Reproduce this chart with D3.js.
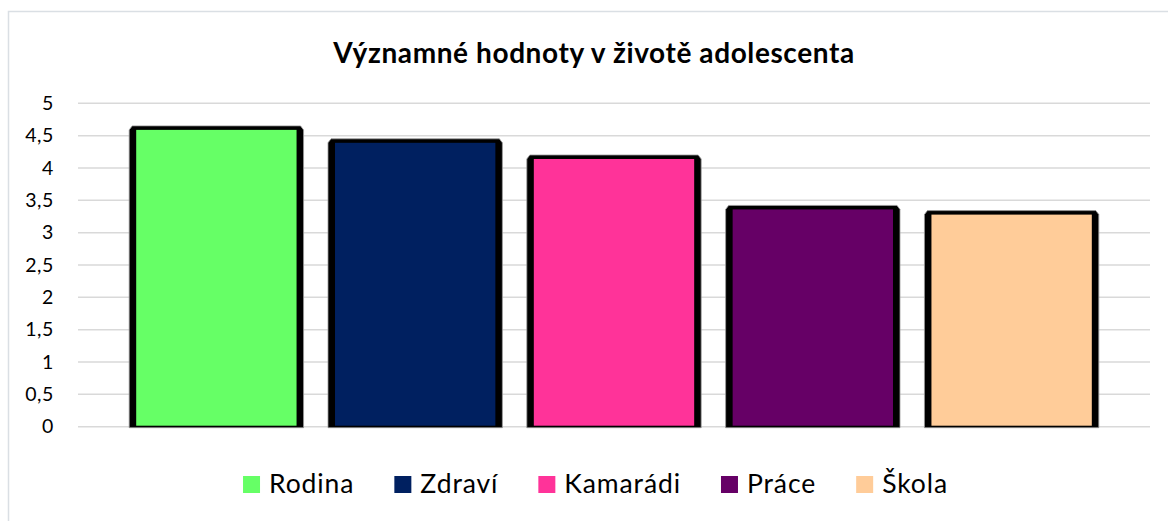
<!DOCTYPE html>
<html>
<head>
<meta charset="utf-8">
<script src="https://cdn.jsdelivr.net/npm/d3@7"></script>
<style>
  html, body { margin: 0; padding: 0; background: #fff; }
  svg { display: block; }
  text { font-family: Lato, "Open Sans", sans-serif; fill: #000; }
</style>
</head>
<body>
<svg id="chart" width="1168" height="521"></svg>
<script>
// Chart data
const title = "Významné hodnoty v životě adolescenta";
const categories = ["Rodina", "Zdraví", "Kamarádi", "Práce", "Škola"];
const values = [4.62, 4.42, 4.17, 3.39, 3.31];
const colors = ["#66ff66", "#002060", "#ff3399", "#660066", "#ffcc99"];
const yTicks = [0, 0.5, 1, 1.5, 2, 2.5, 3, 3.5, 4, 4.5, 5];

const svg = d3.select("#chart");
const W = 1168, H = 521;

// Outer chart frame (left and top edges visible)
svg.append("path")
  .attr("d", `M8.5,${H} L8.5,11.5 L${W},11.5`)
  .attr("fill", "none")
  .attr("stroke", "#dadfe4")
  .attr("stroke-width", 1.5);

const plotLeft = 78, plotRight = 1150;
const y = d3.scaleLinear().domain([0, 5]).range([426.7, 103.3]);
const x = d3.scaleBand()
  .domain(categories)
  .range([plotLeft, plotRight])
  .paddingInner(0.123)
  .paddingOuter(0.2575);

const czLocale = d3.formatLocale({ decimal: ",", thousands: " ", grouping: [3], currency: ["", " Kč"] });
const fmt = v => czLocale.format("~g")(v);

// Gridlines
svg.append("g").selectAll("line")
  .data(yTicks)
  .join("line")
  .attr("x1", plotLeft).attr("x2", plotRight)
  .attr("y1", d => y(d)).attr("y2", d => y(d))
  .attr("stroke", "#d9d9d9")
  .attr("stroke-width", 1.5);

// Y axis labels
const yAxis = d3.axisLeft(y).tickValues(yTicks).tickFormat(fmt).tickSize(0).tickPadding(0);
const yg = svg.append("g").attr("transform", "translate(54,0)").call(yAxis);
yg.select(".domain").remove();
yg.selectAll("text")
  .attr("font-family", "Lato, 'Open Sans', sans-serif")
  .attr("font-size", 19.5)
  .attr("letter-spacing", 0.6)
  .attr("fill", "#000");

// Bars: dark bevelled frame with coloured face
const bars = svg.append("g").selectAll("g")
  .data(categories.map((c, i) => ({ c, v: values[i], col: colors[i] })))
  .join("g");

bars.append("path")
  .attr("d", d => {
    const x0 = x(d.c), w = x.bandwidth(), yv = y(d.v), y0 = y(0);
    return `M${x0},${yv + 2} L${x0 + 3},${yv - 2} L${x0 + w - 3},${yv - 2} L${x0 + w},${yv + 2} L${x0 + w},${y0 + 1} L${x0},${y0 + 1} Z`;
  })
  .attr("fill", "#000")
  .attr("stroke", "#9a9a9a")
  .attr("stroke-width", 0.8);

bars.append("rect")
  .attr("x", d => x(d.c) + 7)
  .attr("y", d => y(d.v) + 2)
  .attr("width", x.bandwidth() - 14)
  .attr("height", d => y(0) - 1 - (y(d.v) + 2))
  .attr("fill", d => d.col);

// Title
svg.append("text")
  .attr("x", 594)
  .attr("y", 63)
  .attr("text-anchor", "middle")
  .attr("font-size", 28)
  .attr("letter-spacing", 0.6)
  .attr("font-weight", "bold")
  .text(title);

// Legend
const legend = svg.append("g");
const items = legend.selectAll("g")
  .data(categories.map((c, i) => ({ c, col: colors[i] })))
  .join("g");
items.append("rect")
  .attr("width", 17).attr("height", 17)
  .attr("y", 476)
  .attr("fill", d => d.col);
items.append("text")
  .attr("x", 26)
  .attr("y", 493)
  .attr("font-size", 26.5)
  .attr("letter-spacing", 0.9)
  .text(d => d.c);

let cx = 0;
const offsets = [];
items.each(function () {
  const tw = d3.select(this).select("text").node().getComputedTextLength();
  offsets.push(cx);
  cx += 26 + tw + 40;
});
const total = cx - 40;
const startX = 595.5 - total / 2;
items.attr("transform", (d, i) => `translate(${startX + offsets[i]},0)`);
</script>
</body>
</html>
